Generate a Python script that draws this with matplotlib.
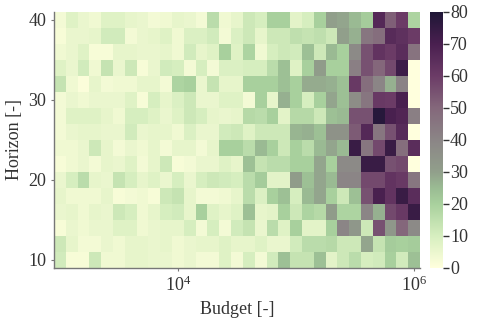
import numpy as np
import matplotlib
matplotlib.use('Agg')
import matplotlib.pyplot as plt
from matplotlib.colors import LinearSegmentedColormap
from matplotlib.ticker import NullLocator

# Grid of the heatmap: budget (log spaced) x horizon
budget = np.logspace(3, 6, 31)
horizon = [10, 12, 14, 16, 18, 20, 22, 24, 26, 28, 30, 32, 34, 36, 38, 40]

# Values, rows from horizon 40 (top) down to 10
rows_top_down = [
    [3, 8, 5, 4, 8, 8, 6, 5, 3, 4, 6, 5, 3, 16, 4, 6, 12, 10, 20, 20, 7, 10, 20, 30, 29, 25, 21, 67, 52, 60, 19],
    [2, 5, 5, 6, 11, 11, 3, 5, 6, 8, 4, 9, 9, 11, 3, 9, 12, 6, 12, 12, 15, 14, 15, 12, 30, 27, 45, 48, 66, 64, 60],
    [4, 5, 8, 2, 2, 6, 6, 5, 5, 6, 4, 11, 6, 8, 20, 8, 19, 4, 10, 12, 11, 24, 12, 25, 20, 38, 55, 63, 60, 65, 46],
    [8, 5, 11, 4, 14, 5, 12, 2, 5, 11, 10, 3, 10, 3, 9, 9, 10, 10, 16, 24, 8, 20, 31, 20, 20, 42, 55, 50, 57, 73, 0],
    [14, 4, 1, 6, 3, 4, 4, 6, 6, 3, 19, 20, 5, 14, 6, 6, 20, 20, 20, 24, 20, 28, 28, 27, 24, 61, 48, 40, 27, 41, 0],
    [3, 5, 4, 5, 5, 5, 8, 2, 10, 6, 9, 12, 5, 5, 8, 8, 3, 20, 6, 27, 20, 10, 20, 29, 24, 37, 45, 61, 60, 70, 0],
    [3, 8, 8, 8, 6, 4, 10, 10, 8, 5, 8, 12, 10, 6, 5, 6, 17, 16, 20, 7, 17, 17, 12, 24, 25, 55, 55, 78, 70, 68, 42],
    [3, 5, 6, 6, 5, 5, 11, 5, 6, 6, 4, 9, 5, 5, 11, 12, 8, 12, 12, 12, 26, 27, 24, 35, 35, 53, 67, 45, 55, 66, 0],
    [4, 4, 5, 12, 6, 3, 5, 4, 6, 3, 6, 6, 3, 6, 20, 20, 16, 25, 20, 12, 20, 16, 25, 29, 25, 74, 45, 57, 74, 48, 65],
    [2, 4, 5, 3, 6, 5, 8, 3, 6, 12, 2, 3, 5, 5, 8, 6, 24, 14, 16, 16, 20, 20, 29, 20, 38, 38, 74, 74, 55, 57, 0],
    [5, 10, 16, 6, 5, 14, 10, 6, 8, 5, 10, 5, 10, 12, 11, 10, 16, 21, 7, 7, 31, 24, 29, 25, 40, 40, 57, 57, 63, 61, 45],
    [6, 4, 4, 4, 6, 2, 3, 4, 2, 12, 14, 6, 3, 3, 4, 6, 16, 9, 20, 24, 10, 25, 29, 20, 12, 24, 55, 70, 63, 74, 65],
    [5, 6, 4, 6, 5, 12, 10, 4, 6, 10, 11, 6, 20, 8, 6, 8, 24, 6, 7, 20, 12, 19, 17, 31, 19, 19, 40, 27, 57, 61, 74],
    [2, 5, 4, 5, 5, 8, 8, 4, 5, 6, 6, 10, 3, 10, 3, 11, 14, 5, 16, 8, 20, 7, 7, 20, 40, 33, 12, 55, 33, 50, 38],
    [12, 6, 3, 3, 5, 4, 6, 6, 5, 6, 4, 5, 6, 6, 8, 6, 6, 8, 5, 5, 11, 16, 16, 17, 12, 12, 29, 14, 21, 20, 21],
    [11, 2, 2, 12, 4, 4, 6, 6, 5, 5, 4, 5, 3, 3, 8, 3, 10, 3, 11, 24, 14, 14, 24, 7, 12, 16, 10, 11, 20, 11, 24],
]
values = np.array(rows_top_down[::-1], dtype=float)

# colour map: light yellow -> green -> grey -> mauve -> dark purple
cmap = LinearSegmentedColormap.from_list('yg_purple', [
    (0.0, '#ffffdd'), (0.125, '#d6eebf'), (0.25, '#a8d09d'), (0.3125, '#9abb93'),
    (0.375, '#919f8b'), (0.5, '#8b8586'), (0.625, '#84687b'), (0.75, '#6c3c67'),
    (0.875, '#4a2050'), (1.0, '#1f1636')])

plt.rcParams['font.family'] = ['Liberation Serif', 'DejaVu Serif']
plt.rcParams['mathtext.fontset'] = 'stix'

# cell edges (midpoints in log space for budget)
lb = np.log10(budget)
db = (lb[1] - lb[0]) / 2
xe = 10 ** np.concatenate([lb - db, [lb[-1] + db]])
hy = np.array(horizon, dtype=float)
dy = (hy[1] - hy[0]) / 2
ye = np.concatenate([hy - dy, [hy[-1] + dy]])

fig = plt.figure(figsize=(4.8, 3.2), dpi=100)
ax = fig.add_axes([0.1125, 0.1625, 0.7625, 0.8])
cax = fig.add_axes([0.896, 0.1625, 0.027, 0.8])

mesh = ax.pcolormesh(xe, ye, values, cmap=cmap, vmin=0, vmax=80)
ax.set_xscale('log')
ax.set_xlim(xe[0], xe[-1])
ax.set_ylim(ye[0], ye[-1])
ax.set_xticks([1e4, 1e6])
ax.xaxis.set_minor_locator(NullLocator())
ax.set_yticks([10, 20, 30, 40])
for s in ['top', 'right']:
    ax.spines[s].set_visible(False)
for s in ['left', 'bottom']:
    ax.spines[s].set_color('#777777')
    ax.spines[s].set_linewidth(1.0)
ax.tick_params(labelsize=13, length=2, color='#777777', labelcolor='#333333')
ax.set_xlabel('Budget [-]', fontsize=13, color='#333333')
ax.set_ylabel('Horizon [-]', fontsize=13, color='#333333')

cb = fig.colorbar(mesh, cax=cax)
cb.outline.set_visible(False)
cb.set_ticks([0, 10, 20, 30, 40, 50, 60, 70, 80])
cb.ax.tick_params(labelsize=13, length=4, width=1, color='#333333', labelcolor='#333333', pad=1)

fig.savefig('out.png', dpi=100)
